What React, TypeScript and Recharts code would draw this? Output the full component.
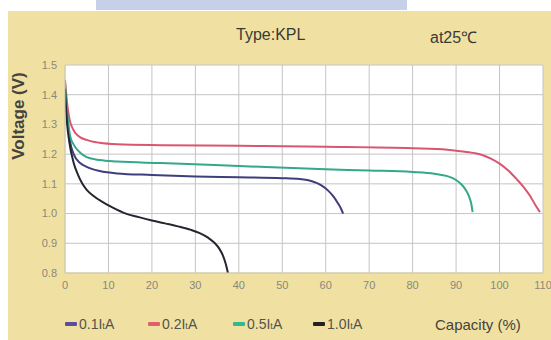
import { LineChart, Line, XAxis, YAxis, CartesianGrid } from "recharts";

// Capacity (%) / voltage (V)
const CAP_01 = [0, 0.5, 1.2, 2, 3.5, 5, 8, 12, 20, 30, 40, 50, 54, 57, 59, 60.5, 61.8, 62.8, 63.5, 64];
const V_01 = [1.42, 1.33, 1.24, 1.2, 1.17, 1.157, 1.143, 1.135, 1.13, 1.125, 1.122, 1.119, 1.116, 1.108, 1.095, 1.078, 1.057, 1.035, 1.017, 1.0];

const CAP_02 = [0, 0.5, 1, 1.8, 3, 5, 8, 12, 22, 40, 60, 80, 88, 92, 96, 98, 100, 102, 104, 105.5, 107, 108.2, 109.3];
const V_02 = [1.45, 1.37, 1.32, 1.285, 1.262, 1.248, 1.238, 1.233, 1.23, 1.228, 1.225, 1.22, 1.215, 1.208, 1.197, 1.185, 1.168, 1.145, 1.115, 1.09, 1.06, 1.03, 1.005];

const CAP_05 = [0, 0.5, 1.2, 2, 3.5, 5, 8, 12, 22, 40, 60, 70, 80, 85, 88, 90, 91.3, 92.3, 93, 93.5, 93.8];
const V_05 = [1.44, 1.34, 1.26, 1.232, 1.205, 1.19, 1.18, 1.175, 1.17, 1.16, 1.149, 1.145, 1.14, 1.134, 1.126, 1.113, 1.097, 1.078, 1.057, 1.032, 1.005];

const CAP_10 = [0, 0.5, 1, 2, 3, 4, 5, 6.5, 8.5, 11, 14, 17, 20, 23, 26, 29, 31, 33, 34.5, 35.5, 36.3, 37, 37.5];
const V_10 = [1.42, 1.3, 1.24, 1.17, 1.13, 1.1, 1.08, 1.06, 1.04, 1.02, 1.0, 0.988, 0.977, 0.967, 0.957, 0.945, 0.934, 0.918, 0.9, 0.882, 0.86, 0.83, 0.8];

const X_TICKS = [0, 10, 20, 30, 40, 50, 60, 70, 80, 90, 100, 110];
const Y_TICKS = [0.8, 0.9, 1.0, 1.1, 1.2, 1.3, 1.4, 1.5];

const SERIES = [
  { name: "0.1", cap: CAP_01, v: V_01, color: "#3f3d7c", legend: "#5b4d9e" },
  { name: "0.2", cap: CAP_02, v: V_02, color: "#d9566e", legend: "#e0606e" },
  { name: "0.5", cap: CAP_05, v: V_05, color: "#33a98a", legend: "#32b890" },
  { name: "1.0", cap: CAP_10, v: V_10, color: "#262630", legend: "#222222" },
];

const LEGEND_X = [65, 148, 233, 313];

const FONT = "'Liberation Sans', Arial, sans-serif";

function toPoints(cap: number[], v: number[]) {
  return cap.map((c, i) => ({ cap: c, v: v[i] }));
}

export default function App() {
  const tick = { fontSize: 11, fill: "#8a877a", fontFamily: FONT };
  return (
    <div
      style={{
        position: "absolute",
        left: 0,
        top: 0,
        width: 551,
        height: 340,
        background: "#ffffff",
        overflow: "hidden",
        fontFamily: FONT,
      }}
    >
      <div style={{ position: "absolute", left: 96, top: 0, width: 311, height: 10, background: "#c6d0e9" }} />
      <div style={{ position: "absolute", left: 8, top: 11, width: 543, height: 329, background: "#f0e1a3" }} />

      <div style={{ position: "absolute", left: 236, top: 26, fontSize: 16, color: "#3a3a34" }}>Type:KPL</div>
      <div style={{ position: "absolute", left: 430, top: 26, fontSize: 16, color: "#3a3a34" }}>at25℃</div>

      <div
        style={{
          position: "absolute",
          left: 19,
          top: 116,
          transform: "translate(-50%, -50%) rotate(-90deg)",
          fontSize: 17,
          fontWeight: 600,
          color: "#45433c",
          whiteSpace: "nowrap",
        }}
      >
        Voltage (V)
      </div>

      <div style={{ position: "absolute", left: 0, top: 0 }}>
        <LineChart width={551} height={340} margin={{ top: 65, right: 8, left: 35, bottom: 47 }}>
          <CartesianGrid stroke="#c4c4c4" strokeWidth={1} fill="#ffffff" />
          <XAxis
            type="number"
            dataKey="cap"
            domain={[0, 110]}
            ticks={X_TICKS}
            height={20}
            tick={tick}
            tickLine={false}
            axisLine={{ stroke: "#d8cfa0" }}
            interval={0}
            allowDataOverflow
          />
          <YAxis
            type="number"
            dataKey="v"
            domain={[0.8, 1.5]}
            ticks={Y_TICKS}
            width={30}
            tick={tick}
            tickLine={false}
            axisLine={{ stroke: "#d8cfa0" }}
            tickFormatter={(t: number) => t.toFixed(1)}
            interval={0}
            allowDataOverflow
          />
          {SERIES.map((s) => (
            <Line
              key={s.name}
              data={toPoints(s.cap, s.v)}
              dataKey="v"
              type="monotone"
              stroke={s.color}
              strokeWidth={2}
              dot={false}
              isAnimationActive={false}
            />
          ))}
        </LineChart>
      </div>

      {SERIES.map((s, i) => (
        <div
          key={s.name}
          style={{
            position: "absolute",
            left: LEGEND_X[i],
            top: 316,
            display: "flex",
            alignItems: "center",
            fontSize: 14,
            color: "#55534a",
          }}
        >
          <span style={{ display: "inline-block", width: 12, height: 4, background: s.legend, marginRight: 2, borderRadius: 1 }} />
          <span>
            {s.name}I<span style={{ fontSize: 9 }}>t</span>A
          </span>
        </div>
      ))}

      <div style={{ position: "absolute", left: 435, top: 316, fontSize: 15, color: "#45433c" }}>Capacity (%)</div>
    </div>
  );
}
